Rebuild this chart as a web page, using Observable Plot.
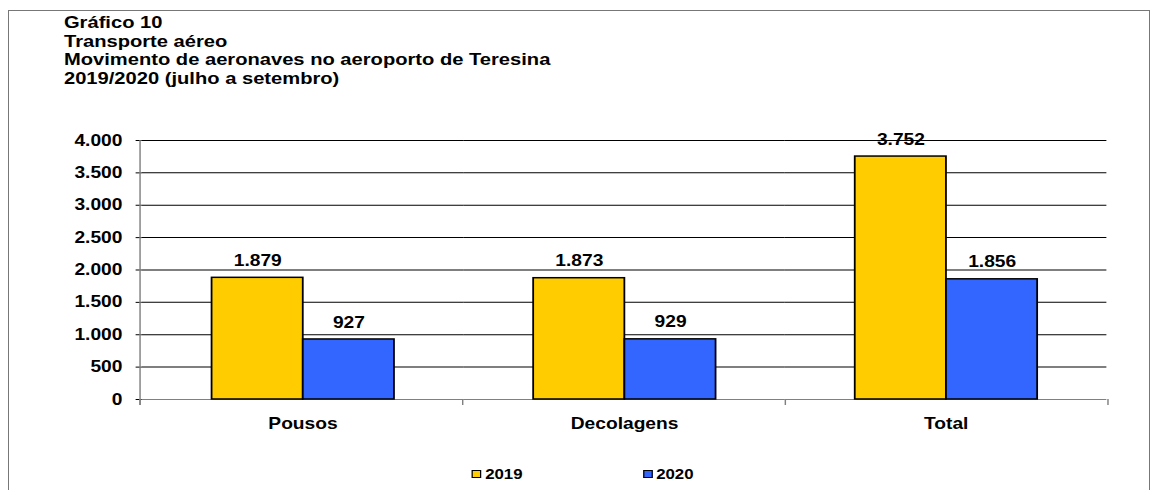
<!DOCTYPE html>
<html>
<head>
<meta charset="utf-8">
<script src="https://cdn.jsdelivr.net/npm/d3@7"></script>
<script src="https://cdn.jsdelivr.net/npm/@observablehq/plot@0.6"></script>
<style>
  html, body { margin: 0; padding: 0; background: #fff; overflow: hidden; width: 1159px; height: 490px; }
  #frame { position: absolute; left: 8px; top: 10px; width: 1142px; height: 520px; border: 1px solid #777; box-sizing: border-box; }
  #fig { position: absolute; left: 0; top: 0; width: 965.83px; height: 490px; transform: scaleX(1.2); transform-origin: 0 0;
         font-family: "Liberation Sans", Arial, Helvetica, sans-serif; font-weight: bold; color: #000; }
  #title { position: absolute; left: 53.3px; top: 14px; font-size: 16.8px; line-height: 18.5px; white-space: nowrap; }
  #chart { position: absolute; left: 0; top: 0; }
  .leg { position: absolute; top: 466px; display: flex; align-items: center; font-size: 14px; line-height: 16px; }
  .sw { width: 6px; height: 6px; border: 1.5px solid #000; margin-right: 3px; }
</style>
</head>
<body>
<div id="frame"></div>
<div id="fig">
  <div id="chart"></div>
  <div id="title"></div>
</div>
<script>
// ---- data ----
const titleLines = ["Gráfico 10", "Transporte aéreo", "Movimento de aeronaves no aeroporto de Teresina", "2019/2020 (julho a setembro)"];
const categories = ["Pousos", "Decolagens", "Total"];
const years = ["2019", "2020"];
const values2019 = [1879, 1873, 3752];
const values2020 = [927, 929, 1856];
const colors = ["#FFCC00", "#3366FF"];
const yTicks = [0, 500, 1000, 1500, 2000, 2500, 3000, 3500, 4000];

// ---- build ----
const series = [values2019, values2020];
const rows = categories.flatMap((c, i) => years.map((y, j) => ({category: c, year: y, value: series[j][i]})));
const fmt = d3.formatLocale({decimal: ",", thousands: ".", grouping: [3], currency: ["", ""]}).format(",d");

document.getElementById("title").innerHTML = titleLines.map(t => `<div>${t}</div>`).join("");

const W = 1159 / 1.2;
const plot = Plot.plot({
  width: W,
  height: 490,
  marginLeft: 116.7,
  marginRight: 42.5,
  marginTop: 140,
  marginBottom: 91,
  style: {fontFamily: '"Liberation Sans", Arial, Helvetica, sans-serif', fontSize: "16px", fontWeight: "bold", color: "#000", background: "transparent", overflow: "visible"},
  fx: {domain: categories, paddingInner: 0, paddingOuter: 0, axis: null, label: null},
  x: {domain: years, paddingInner: 0, paddingOuter: 0.753, axis: null, label: null},
  y: {domain: [0, 4000], axis: null, label: null},
  color: {domain: years, range: colors},
  marks: [
    Plot.ruleY(yTicks.filter(d => d > 0), {stroke: "#000", strokeWidth: 1}),
    Plot.ruleY([0], {stroke: "#808080", strokeWidth: 1}),
    Plot.barY(rows, {fx: "category", x: "year", y: "value", fill: "year", stroke: "#000", strokeWidth: 1.5, inset: 0}),
    Plot.text(rows, {fx: "category", x: "year", y: "value", text: d => fmt(d.value), dy: -17, fontSize: 16, fontWeight: "bold", fill: "#000"}),
    Plot.axisY({ticks: yTicks, tickFormat: fmt, tickSize: 5, tickPadding: 11.5, fontSize: 16, fontWeight: "bold", label: null}),
    Plot.axisFx({anchor: "bottom", tickSize: 0, tickPadding: 18, fontSize: 16, fontWeight: "bold", label: null})
  ]
});
document.getElementById("chart").appendChild(plot);

// axis line and category boundary ticks from the plot's own scales
const fxS = plot.scale("fx");
const band = d3.scaleBand(fxS.domain, fxS.range)
  .paddingInner(fxS.paddingInner ?? 0).paddingOuter(fxS.paddingOuter ?? 0).align(fxS.align ?? 0.5);
const yS = plot.scale("y");
const ys = d3.scaleLinear(yS.domain, yS.range);
const bounds = [band(categories[0]), ...categories.map(c => band(c) + band.bandwidth())];
const g = d3.select(plot).append("g").attr("stroke", "#808080").attr("stroke-width", 1.2);
g.append("line").attr("x1", bounds[0]).attr("x2", bounds[0]).attr("y1", ys(4000)).attr("y2", ys(0) + 6);
bounds.forEach(b => g.append("line").attr("x1", b).attr("x2", b).attr("y1", ys(0)).attr("y2", ys(0) + 6));

// legend
const legLeft = [393.3, 535.8];
years.forEach((y, i) => {
  const d = document.createElement("div");
  d.className = "leg";
  d.style.left = legLeft[i] + "px";
  d.innerHTML = `<span class="sw" style="background:${colors[i]}"></span><span>${y}</span>`;
  document.getElementById("fig").appendChild(d);
});
</script>
</body>
</html>
